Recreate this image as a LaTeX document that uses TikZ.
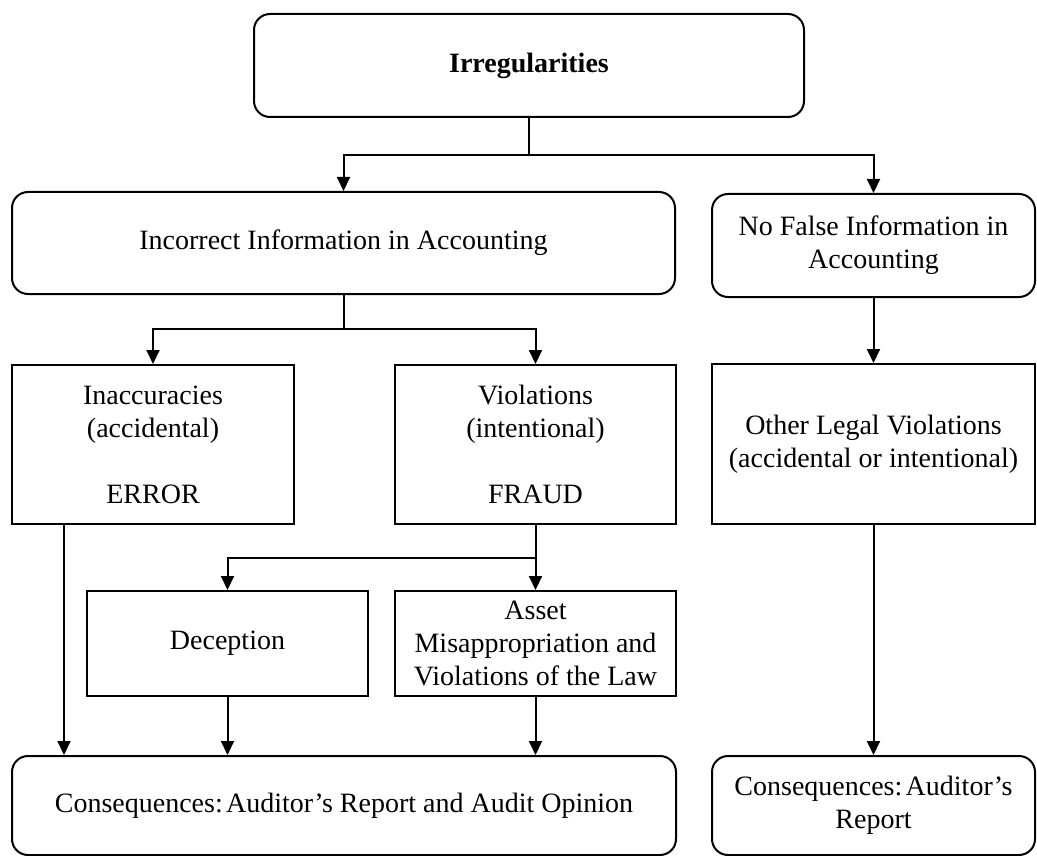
\documentclass[tikz,border=0pt]{standalone}
\usepackage{fontspec}
\setmainfont{Liberation Serif}
\usetikzlibrary{arrows.meta}

\tikzset{
    box/.style={draw, line width=2pt, inner sep=0pt, align=center, font=\fontsize{28}{33}\selectfont},
    roundbox/.style={box, rounded corners=16pt},
    link/.style={line width=2pt},
    arr/.style={link, -{Triangle[length=14pt,width=13pt]}},
}

\begin{document}
\begin{tikzpicture}[x=1pt,y=-1pt]
                \useasboundingbox (0,0) rectangle (1037,856); %page size
                % boxes
                \node[roundbox, minimum width=550pt, minimum height=103pt] (irreg) at (529,65.5) {\textbf{Irregularities}};
                \node[roundbox, minimum width=663pt, minimum height=102pt] (incorrect) at (343.5,243) {Incorrect Information in Accounting};
                \node[roundbox, minimum width=323pt, minimum height=103pt] (nofalse) at (873.5,245.5) {No False Information in\\Accounting};
                \node[box, minimum width=282pt, minimum height=159pt] (inacc) at (153,444.5) {Inaccuracies\\(accidental)\\[33pt]ERROR};
                \node[box, minimum width=281pt, minimum height=159pt] (viol) at (535.5,444.5) {Violations\\(intentional)\\[33pt]FRAUD};
                \node[box, minimum width=323pt, minimum height=160pt] (other) at (873.5,444) {Other Legal Violations\\(accidental or intentional)};
                \node[box, minimum width=281pt, minimum height=105pt] (decep) at (227.5,643.5) {Deception};
                \node[box, minimum width=281pt, minimum height=105pt] (asset) at (535.5,643.5) {Asset\\Misappropriation and\\Violations of the Law};
                \node[roundbox, minimum width=664pt, minimum height=99pt] (consL) at (344,805.5) {Consequences:\hspace{0.12em}Auditor’s Report and Audit Opinion};
                \node[roundbox, minimum width=323pt, minimum height=99pt] (consR) at (873.5,805.5) {Consequences:\hspace{0.12em}Auditor’s\\Report};
                % branch points
                \coordinate (split1) at (529,155);
                \coordinate (split2) at (343.5,329);
                \coordinate (split3) at (535.5,558);
                % connectors
                \draw[link] (irreg.south) -- (split1);
                \draw[arr] (split1) -| (incorrect.north);
                \draw[arr] (split1) -| (nofalse.north);
                \draw[link] (incorrect.south) -- (split2);
                \draw[arr] (split2) -| (inacc.north);
                \draw[arr] (split2) -| (viol.north);
                \draw[arr] (nofalse.south) -- (other.north);
                \draw[arr] (viol.south) -- (asset.north);
                \draw[arr] (split3) -| (decep.north);
                \draw[arr] ([xshift=53pt]inacc.south west) -- ([xshift=53pt]inacc.south west |- consL.north);
                \draw[arr] (decep.south) -- (decep.south |- consL.north);
                \draw[arr] (asset.south) -- (asset.south |- consL.north);
                \draw[arr] (other.south) -- (consR.north);
\end{tikzpicture}
\end{document}
